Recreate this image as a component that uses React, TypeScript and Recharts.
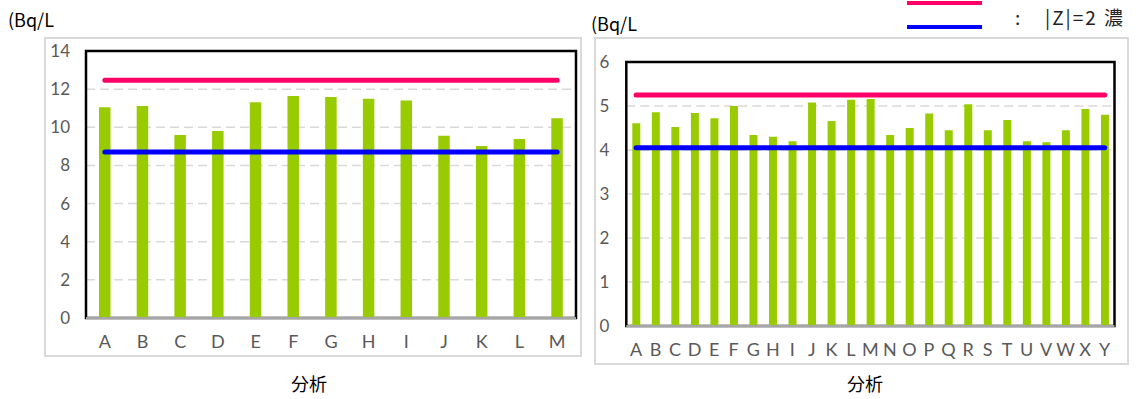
import React from "react";
import {
  ComposedChart,
  Bar,
  Line,
  XAxis,
  YAxis,
  CartesianGrid,
  ReferenceArea,
  ReferenceLine,
} from "recharts";

const leftCategories = ["A", "B", "C", "D", "E", "F", "G", "H", "I", "J", "K", "L", "M"];
const leftValues = [11.05, 11.12, 9.6, 9.8, 11.31, 11.64, 11.59, 11.5, 11.4, 9.56, 9.02, 9.39, 10.47];
const leftUpper = 12.46;
const leftLower = 8.7;
const leftTicks = [0, 2, 4, 6, 8, 10, 12, 14];

const rightCategories = [
  "A", "B", "C", "D", "E", "F", "G", "H", "I", "J", "K", "L", "M",
  "N", "O", "P", "Q", "R", "S", "T", "U", "V", "W", "X", "Y",
];
const rightValues = [
  4.61, 4.86, 4.52, 4.84, 4.72, 5.0, 4.34, 4.3, 4.2, 5.08, 4.66, 5.14, 5.16,
  4.34, 4.5, 4.83, 4.45, 5.04, 4.45, 4.68, 4.2, 4.175, 4.45, 4.93, 4.8,
];
const rightUpper = 5.25;
const rightLower = 4.05;
const rightTicks = [0, 1, 2, 3, 4, 5, 6];

const unitLabel = "(Bq/L";
const xTitle = "分析";
const legendColon = ":";
const legendText = "|Z|=2 濃";

const GREEN = "#99CC00";
const RED = "#FF0066";
const BLUE = "#0000FF";
const TICK_FONT = "Lato, 'DejaVu Sans', sans-serif";

function buildData(cats: string[], vals: number[], up: number, lo: number) {
  return cats.map((c, i) => ({ name: c, value: vals[i], upper: up, lower: lo }));
}

type PanelProps = {
  data: { name: string; value: number; upper: number; lower: number }[];
  ticks: number[];
  max: number;
  width: number;
  height: number;
  margin: { top: number; right: number; bottom: number; left: number };
  yAxisWidth: number;
  barSize: number;
  yTickMargin: number;
  xTickMargin: number;
};

function Panel(p: PanelProps) {
  return (
    <ComposedChart width={p.width} height={p.height} data={p.data} margin={p.margin}>
      <CartesianGrid
        horizontal
        vertical={false}
        stroke="#d9d9d9"
        strokeWidth={1.5}
        strokeDasharray="9 5"
      />
      <XAxis
        dataKey="name"
        height={30}
        axisLine={false}
        tickLine={false}
        tickSize={0}
        tickMargin={p.xTickMargin}
        interval={0}
        tick={{ fill: "#595959", fontSize: 18, fontFamily: TICK_FONT }}
      />
      <YAxis
        width={p.yAxisWidth}
        domain={[0, p.max]}
        ticks={p.ticks}
        axisLine={false}
        tickLine={false}
        tickSize={0}
        tickMargin={p.yTickMargin}
        interval={0}
        tick={{ fill: "#595959", fontSize: 17, fontFamily: TICK_FONT }}
      />
      <ReferenceArea y1={0} y2={p.max} fill="none" stroke="#000" strokeWidth={2.5} ifOverflow="visible" />
      <Bar dataKey="value" fill={GREEN} barSize={p.barSize} isAnimationActive={false} />
      <ReferenceLine y={0} stroke="#a6a6a6" strokeWidth={2} />
      <Line
        dataKey="upper"
        stroke={RED}
        strokeWidth={5}
        strokeLinecap="round"
        dot={false}
        activeDot={false}
        isAnimationActive={false}
      />
      <Line
        dataKey="lower"
        stroke={BLUE}
        strokeWidth={5}
        strokeLinecap="round"
        dot={false}
        activeDot={false}
        isAnimationActive={false}
      />
    </ComposedChart>
  );
}

const textStyle: React.CSSProperties = {
  position: "absolute",
  fontFamily: "'Noto Sans CJK JP', 'Noto Sans', sans-serif",
  color: "#000",
  whiteSpace: "nowrap",
  lineHeight: 1,
};

export default function App() {
  const leftData = buildData(leftCategories, leftValues, leftUpper, leftLower);
  const rightData = buildData(rightCategories, rightValues, rightUpper, rightLower);
  return (
    <div
      style={{
        position: "absolute",
        left: 0,
        top: 0,
        width: 1138,
        height: 399,
        overflow: "hidden",
        background: "#fff",
      }}
    >
      {/* left frame */}
      <div
        style={{
          position: "absolute",
          left: 44,
          top: 37,
          width: 534,
          height: 316,
          border: "2px solid #d9d9d9",
        }}
      />
      {/* right frame */}
      <div
        style={{
          position: "absolute",
          left: 594,
          top: 37,
          width: 531,
          height: 324,
          border: "2px solid #d9d9d9",
        }}
      />
      <div style={{ position: "absolute", left: 0, top: 0 }}>
        <Panel
          data={leftData}
          ticks={leftTicks}
          max={14}
          width={600}
          height={399}
          margin={{ top: 51, right: 24, bottom: 51, left: 0 }}
          yAxisWidth={86}
          barSize={11.5}
          yTickMargin={16}
          xTickMargin={17}
        />
      </div>
      <div style={{ position: "absolute", left: 580, top: 0 }}>
        <Panel
          data={rightData}
          ticks={rightTicks}
          max={6}
          width={558}
          height={399}
          margin={{ top: 62, right: 23.5, bottom: 43, left: 0 }}
          yAxisWidth={46.3}
          barSize={8}
          yTickMargin={17}
          xTickMargin={17.5}
        />
      </div>
      <div style={{ ...textStyle, left: 8, top: 10, fontSize: 18 }}>{unitLabel}</div>
      <div style={{ ...textStyle, left: 591, top: 14, fontSize: 18 }}>{unitLabel}</div>
      <div style={{ ...textStyle, left: 309, top: 383, fontSize: 18, transform: "translate(-50%, -50%)" }}>
        {xTitle}
      </div>
      <div style={{ ...textStyle, left: 865, top: 383, fontSize: 18, transform: "translate(-50%, -50%)" }}>
        {xTitle}
      </div>
      {/* legend */}
      <div style={{ position: "absolute", left: 907, top: 1, width: 75, height: 4, background: RED }} />
      <div style={{ position: "absolute", left: 907, top: 25, width: 75, height: 4, background: BLUE }} />
      <div style={{ ...textStyle, left: 1015, top: 7, fontSize: 19, color: "#222" }}>{legendColon}</div>
      <div style={{ ...textStyle, left: 1045, top: 7, fontSize: 19, color: "#222", letterSpacing: 2 }}>
        {legendText}
      </div>
    </div>
  );
}
